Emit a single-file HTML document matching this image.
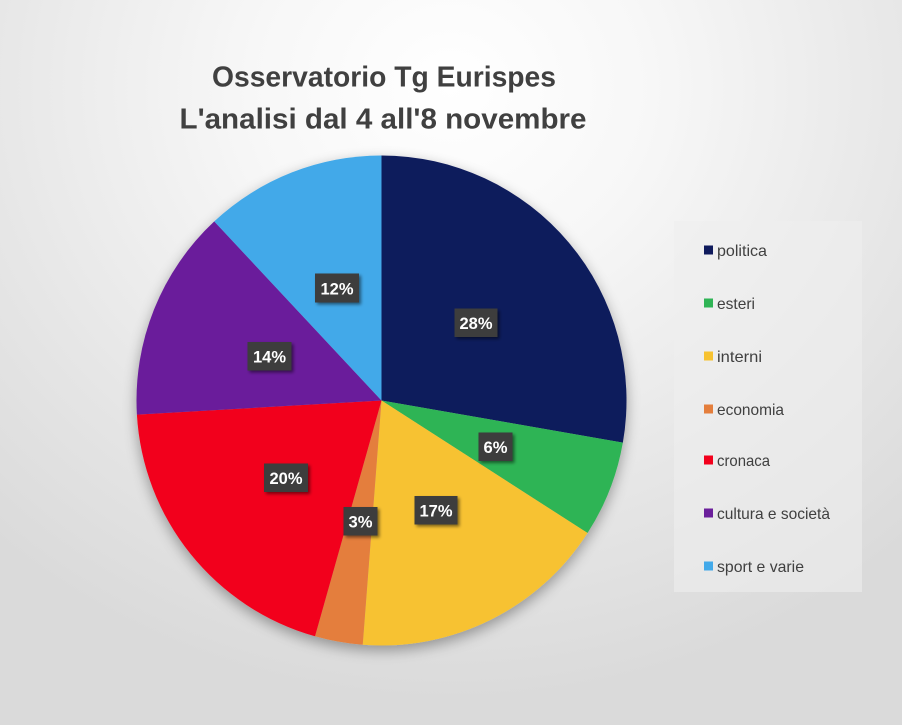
<!DOCTYPE html>
<html>
<head>
<meta charset="utf-8">
<style>
  html,body{margin:0;padding:0;}
  body{width:902px;height:725px;overflow:hidden;
    background: radial-gradient(ellipse 75% 85% at 50% 12%, #ffffff 0%, #f7f7f7 30%, #e6e6e6 70%, #dadada 100%);
    font-family:"Liberation Sans", sans-serif;}
  svg{display:block;}
</style>
</head>
<body>
<svg width="902" height="725" viewBox="0 0 902 725" xmlns="http://www.w3.org/2000/svg">
  <defs>
    <filter id="ps" x="-20%" y="-20%" width="140%" height="140%">
      <feGaussianBlur in="SourceAlpha" stdDeviation="7"/>
      <feOffset dx="0" dy="5" result="b"/>
      <feComponentTransfer><feFuncA type="linear" slope="0.35"/></feComponentTransfer>
      <feMerge><feMergeNode/><feMergeNode in="SourceGraphic"/></feMerge>
    </filter>
    <filter id="ls" x="-30%" y="-30%" width="160%" height="160%">
      <feGaussianBlur in="SourceAlpha" stdDeviation="1.5"/>
      <feOffset dx="2" dy="2" result="b"/>
      <feComponentTransfer><feFuncA type="linear" slope="0.5"/></feComponentTransfer>
      <feMerge><feMergeNode/><feMergeNode in="SourceGraphic"/></feMerge>
    </filter>
  </defs>

  <!-- Title -->
  <g fill="#404040" font-family="'Liberation Sans', sans-serif" font-weight="bold" font-size="29" text-anchor="middle">
    <text x="384" y="86.5" textLength="344" lengthAdjust="spacingAndGlyphs">Osservatorio Tg Eurispes</text>
    <text x="383" y="128.5" textLength="407" lengthAdjust="spacingAndGlyphs">L'analisi dal 4 all'8 novembre</text>
  </g>

  <!-- Pie -->
  <g filter="url(#ps)">
    <path d="M381.5,400.5 L381.5,155.5 A245,245 0 0 1 622.85,442.62 Z" fill="#0f1a5c"/>
    <path d="M381.5,400.5 L622.85,442.62 A245,245 0 0 1 587.55,533.04 Z" fill="#2fb455"/>
    <path d="M381.5,400.5 L587.55,533.04 A245,245 0 0 1 362.70,644.78 Z" fill="#f7c230"/>
    <path d="M381.5,400.5 L362.70,644.78 A245,245 0 0 1 315.0,636.30 Z" fill="#e47e3c"/>
    <path d="M381.5,400.5 L315.0,636.30 A245,245 0 0 1 136.91,414.60 Z" fill="#f2001c"/>
    <path d="M381.5,400.5 L136.91,414.60 A245,245 0 0 1 214.25,221.41 Z" fill="#6b1f9b"/>
    <path d="M381.5,400.5 L214.25,221.41 A245,245 0 0 1 381.5,155.5 Z" fill="#42a9e9"/>
  </g>

  <!-- Data labels -->
  <g font-family="'Liberation Sans', sans-serif" font-weight="bold" font-size="17" fill="#ffffff" text-anchor="middle">
    <rect x="315" y="273.5" width="44" height="29" fill="#3d3d3d" filter="url(#ls)"/>
    <text x="337" y="294.5" textLength="33" lengthAdjust="spacingAndGlyphs">12%</text>
    <rect x="454.5" y="308.5" width="43" height="28.5" fill="#3d3d3d" filter="url(#ls)"/>
    <text x="476" y="329" textLength="33" lengthAdjust="spacingAndGlyphs">28%</text>
    <rect x="247.5" y="342" width="44" height="28.5" fill="#3d3d3d" filter="url(#ls)"/>
    <text x="269.5" y="362.5" textLength="33" lengthAdjust="spacingAndGlyphs">14%</text>
    <rect x="478.5" y="432.5" width="34" height="28.5" fill="#3d3d3d" filter="url(#ls)"/>
    <text x="495.5" y="453" textLength="24" lengthAdjust="spacingAndGlyphs">6%</text>
    <rect x="264" y="463.5" width="44" height="28.5" fill="#3d3d3d" filter="url(#ls)"/>
    <text x="286" y="484" textLength="33" lengthAdjust="spacingAndGlyphs">20%</text>
    <rect x="343.5" y="507" width="34" height="28.5" fill="#3d3d3d" filter="url(#ls)"/>
    <text x="360.5" y="527.5" textLength="24" lengthAdjust="spacingAndGlyphs">3%</text>
    <rect x="414.5" y="496" width="43" height="28.5" fill="#3d3d3d" filter="url(#ls)"/>
    <text x="436" y="516.5" textLength="33" lengthAdjust="spacingAndGlyphs">17%</text>
  </g>

  <!-- Legend -->
  <rect x="674" y="221" width="188" height="371" fill="#efefef" opacity="0.6"/>
  <g font-family="'Liberation Sans', sans-serif" font-size="16" fill="#404040">
    <rect x="704" y="245.5" width="9" height="9" fill="#0f1a5c"/>
    <text x="717" y="256" textLength="50" lengthAdjust="spacingAndGlyphs">politica</text>
    <rect x="704" y="298.5" width="9" height="9" fill="#2fb455"/>
    <text x="717" y="309" textLength="38" lengthAdjust="spacingAndGlyphs">esteri</text>
    <rect x="704" y="351.5" width="9" height="9" fill="#f7c230"/>
    <text x="717" y="362" textLength="45" lengthAdjust="spacingAndGlyphs">interni</text>
    <rect x="704" y="404.5" width="9" height="9" fill="#e47e3c"/>
    <text x="717" y="415" textLength="67" lengthAdjust="spacingAndGlyphs">economia</text>
    <rect x="704" y="455.5" width="9" height="9" fill="#f2001c"/>
    <text x="717" y="466" textLength="53" lengthAdjust="spacingAndGlyphs">cronaca</text>
    <rect x="704" y="508.5" width="9" height="9" fill="#6b1f9b"/>
    <text x="717" y="519" textLength="113" lengthAdjust="spacingAndGlyphs">cultura e società</text>
    <rect x="704" y="561.5" width="9" height="9" fill="#42a9e9"/>
    <text x="717" y="572" textLength="87" lengthAdjust="spacingAndGlyphs">sport e varie</text>
  </g>
</svg>
</body>
</html>
